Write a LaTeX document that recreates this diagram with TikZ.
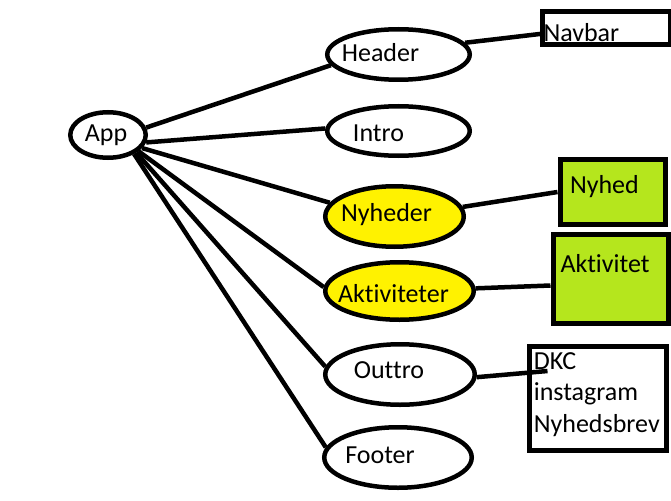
\documentclass[tikz,border=0pt]{standalone}
\usepackage{fontspec}
\setmainfont{Carlito}[Ligatures={CommonOff}]
\usepackage{xcolor}
\usepackage{tikz}
\usetikzlibrary{shapes.geometric}
\definecolor{paintyellow}{HTML}{FFF200}
\definecolor{paintlime}{HTML}{B5E61D}
\tikzset{
  % --- components (ellipses) -------------------------------------------------
  comp/.style={ellipse,draw,fill=white,line width=4.5pt,inner xsep=-20pt,
               inner ysep=0pt,text depth=0pt,text height=#1},
  comp/.default=15pt,
  news/.style={comp=#1,fill=paintyellow},             % news / activity parts
  nudge/.style={execute at begin node={\hspace*{#1}}}, % hand-placed text
  % --- sub parts (boxes) -----------------------------------------------------
  part/.style={rectangle,draw,line width=5pt,inner ysep=0pt,anchor=north west,
               align=left},
  partfill/.style={part,fill=paintlime},
  % --- links -----------------------------------------------------------------
  link/.style={line width=4.5pt},
}
\begin{document}
\begin{tikzpicture}[x=1pt, y=-1pt, font=\fontsize{26}{31.7}\selectfont]
  \useasboundingbox (0,0) rectangle (671,500);

  \node[comp=13.4pt,minimum width=75.5pt,minimum height=45.5pt,nudge=-4pt]
    (app) at (108,135) {App};

  % children of App
  \node[comp=15pt,minimum width=142.5pt,minimum height=50.5pt,nudge=-36pt]
    (header) at (398.5,54.5) {Header};
  \node[comp=21.4pt,minimum width=142.5pt,minimum height=49.5pt,nudge=-40pt]
    (intro) at (398.5,131) {Intro};
  \node[news=10.4pt,minimum width=138.5pt,minimum height=60.5pt,nudge=-16pt]
    (nyheder) at (394.5,216.5) {Nyheder};
  \node[news=22pt,minimum width=148.5pt,minimum height=57.5pt,nudge=-12pt]
    (aktiviteter) at (399.5,291) {Aktiviteter};
  \node[comp=7pt,minimum width=149.5pt,minimum height=60.5pt,nudge=-22pt]
    (outtro) at (400,374.5) {Outtro};
  \node[comp=11pt,minimum width=147.5pt,minimum height=60.5pt,nudge=-36pt]
    (footer) at (398,457.5) {Footer};

  % sub parts
  \node[part,inner xsep=1pt,text width=125.5pt,text height=29.5pt,
        text depth=3.5pt] (navbar) at (540,9.5) {Navbar};
  \node[partfill,inner xsep=10pt,text width=85pt,text height=33.7pt,
        text depth=31.3pt] (nyhed) at (557.5,157) {Nyhed};
  \node[partfill,inner xsep=7.5pt,text width=100pt,text height=38.5pt,
        text depth=50.5pt] (aktivitet) at (550.5,231.5) {Aktivitet};
  \node[part,inner xsep=4.8pt,text width=128pt,text height=22.7pt,
        text depth=80.8pt] (dkc) at (526.5,344) {DKC\\instagram\\Nyhedsbrev};

  \draw[link] (app.11)  -- (header.189);
  \draw[link] (app.-11) -- (intro.178);
  \draw[link] (app.-21) -- (nyheder.168);
  \draw[link] (app.-28) -- (aktiviteter.177);
  \draw[link] (app.-32) -- (outtro.174);
  \draw[link] (app.-36) -- (footer.172);

  \draw[link] (header.10)     -- ([xshift=4pt,yshift=-5pt]navbar.west);
  \draw[link] (nyheder.8)     -- (nyhed.west);
  \draw[link] (aktiviteter.2) -- ([yshift=-7pt]aktivitet.west);
  \draw[link] (outtro.-2)     -- ([xshift=21pt,yshift=-27pt]dkc.north west);
\end{tikzpicture}
\end{document}
